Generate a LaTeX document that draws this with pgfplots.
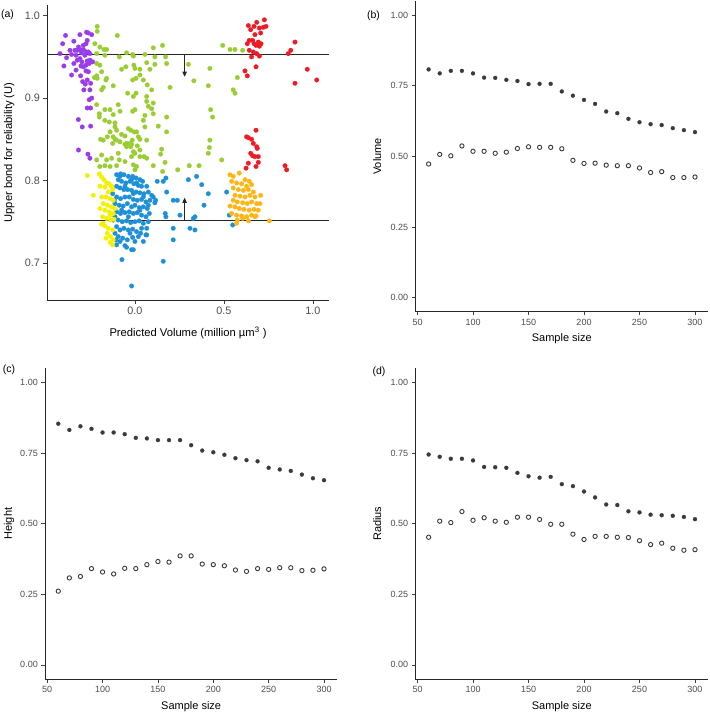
\documentclass[border=0pt]{standalone}
\usepackage{fontspec}
\setmainfont{Liberation Sans}
\usepackage{pgfplots}
\pgfplotsset{compat=1.18}
\usetikzlibrary{arrows.meta}
\definecolor{cpurple}{HTML}{9B3CEB}
\definecolor{cgreen}{HTML}{9ACD32}
\definecolor{cblue}{HTML}{1E90D8}
\definecolor{cyellow}{HTML}{F5F000}
\definecolor{corange}{HTML}{FFB515}
\definecolor{cred}{HTML}{EE1B24}
\definecolor{tickgray}{HTML}{4D4D4D}
\definecolor{dotgray}{HTML}{3A3A3A}
\pgfplotsset{
  base/.style={scale only axis, axis x line*=bottom, axis y line*=left,
    axis line style={-, line width=0.8pt, black!85},
    tick align=outside, major tick length=3.7pt,
    tick style={line width=0.6pt, black!75},
    /pgf/number format/assume math mode=true,
    ticklabel style={text=tickgray},
  },
  small/.style={base, width=293pt, height=310.6pt,
    xmin=48, xmax=312, ymin=-0.05, ymax=1.05,
    xtick={50,100,150,200,250,300}, ytick={0,0.25,0.5,0.75,1},
    yticklabel style={/pgf/number format/.cd, fixed, fixed zerofill, precision=2},
    ticklabel style={font=\fontsize{9}{10}\selectfont},
    label style={font=\fontsize{11}{13}\selectfont},
    xlabel style={at={(axis description cs:0.5,-0.086)}, anchor=center},
    ylabel style={at={(axis description cs:-0.13,0.5)}, anchor=center},
  },
  pts/.style={only marks, mark=*, mark size=2.3pt, mark options={solid, draw=#1, fill=#1, line width=0.2pt}},
  fdot/.style={only marks, mark=*, mark size=2.0pt, mark options={solid, draw=dotgray, fill=dotgray, line width=0.2pt}},
  odot/.style={only marks, mark=o, mark size=2.15pt, mark options={solid, draw=dotgray, line width=0.9pt}},
}
\pgfplotstableread{
n up lo
60 0.808 0.473
70 0.794 0.507
80 0.803 0.502
90 0.803 0.537
100 0.794 0.518
110 0.779 0.518
120 0.778 0.511
130 0.771 0.515
140 0.767 0.528
150 0.756 0.534
160 0.757 0.532
170 0.757 0.532
180 0.730 0.527
190 0.715 0.486
200 0.700 0.475
210 0.686 0.476
220 0.659 0.469
230 0.653 0.467
240 0.633 0.467
250 0.621 0.459
260 0.614 0.443
270 0.611 0.446
280 0.600 0.425
290 0.593 0.425
300 0.586 0.427
}\volume
\pgfplotstableread{
n up lo
60 0.854 0.261
70 0.832 0.308
80 0.845 0.313
90 0.836 0.341
100 0.823 0.329
110 0.823 0.322
120 0.817 0.342
130 0.804 0.341
140 0.802 0.355
150 0.796 0.366
160 0.796 0.364
170 0.796 0.386
180 0.778 0.386
190 0.759 0.357
200 0.753 0.355
210 0.744 0.351
220 0.732 0.336
230 0.725 0.331
240 0.721 0.341
250 0.698 0.338
260 0.692 0.344
270 0.687 0.344
280 0.674 0.334
290 0.661 0.335
300 0.654 0.340
}\height
\pgfplotstableread{
n up lo
60 0.745 0.452
70 0.737 0.509
80 0.730 0.504
90 0.730 0.543
100 0.724 0.512
110 0.701 0.521
120 0.700 0.509
130 0.698 0.505
140 0.680 0.523
150 0.668 0.523
160 0.663 0.515
170 0.666 0.498
180 0.640 0.498
190 0.633 0.463
200 0.614 0.444
210 0.593 0.455
220 0.568 0.455
230 0.566 0.452
240 0.544 0.451
250 0.540 0.440
260 0.532 0.426
270 0.530 0.431
280 0.528 0.413
290 0.524 0.406
300 0.516 0.408
}\radius
\begin{document}
\begin{tikzpicture}
\useasboundingbox (0,0) rectangle (709pt,714pt);
% ---------- (a) ----------
\begin{axis}[base, at={(47pt,414pt)}, anchor=south west, width=282pt, height=295pt,
  xmin=-0.494, xmax=1.09, ymin=0.655, ymax=1.013,
  xtick={0,0.5,1}, ytick={0.7,0.8,0.9,1.0},
  xticklabel style={/pgf/number format/.cd, fixed, fixed zerofill, precision=1},
  yticklabel style={/pgf/number format/.cd, fixed, fixed zerofill, precision=1},
  ticklabel style={font=\fontsize{10.8}{12}\selectfont},
  label style={font=\fontsize{11.2}{13}\selectfont},
  xlabel={Predicted Volume (million µm\textsuperscript{3} )},
  ylabel={Upper bond for reliability (U)},
  xlabel style={at={(axis description cs:0.5,-0.112)}, anchor=center},
  ylabel style={at={(axis description cs:-0.134,0.5)}, anchor=center},
]
\addplot[pts=cgreen] coordinates {
(-0.212,0.987) (-0.212,0.981) (-0.099,0.976) (-0.225,0.966) (-0.197,0.962) (-0.174,0.959) (-0.159,0.959) (-0.169,0.952) (-0.215,0.954) (-0.088,0.950)
(-0.047,0.955) (-0.013,0.953) (-0.009,0.951) (0.056,0.953) (0.103,0.961) (0.155,0.964) (0.112,0.950) (0.172,0.950) (-0.075,0.935) (-0.051,0.938)
(-0.006,0.940) (0.000,0.936) (0.028,0.935) (0.084,0.935) (0.112,0.941) (0.066,0.943) (-0.215,0.942) (-0.197,0.940) (-0.187,0.932) (-0.215,0.927)
(-0.228,0.925) (-0.212,0.924) (-0.159,0.924) (-0.163,0.922) (-0.122,0.915) (-0.178,0.913) (-0.187,0.910) (-0.013,0.922) (0.006,0.924) (0.047,0.922)
(0.069,0.916) (0.094,0.910) (0.197,0.913) (-0.041,0.906) (-0.215,0.892) (-0.169,0.886) (-0.140,0.886) (-0.013,0.884) (0.000,0.886) (0.066,0.896)
(0.075,0.890) (0.094,0.887) (0.103,0.881) (0.056,0.879) (-0.200,0.881) (-0.200,0.877) (-0.169,0.873) (-0.144,0.871) (-0.112,0.870) (-0.112,0.865)
(-0.103,0.861) (-0.140,0.859) (-0.155,0.853) (-0.122,0.853) (-0.103,0.849) (-0.193,0.850) (-0.125,0.845) (-0.075,0.856) (-0.056,0.854) (-0.024,0.861)
(-0.004,0.859) (0.019,0.853) (0.028,0.850) (-0.015,0.849) (-0.028,0.845) (-0.047,0.845) (-0.094,0.833) (-0.056,0.844) (-0.047,0.841) (-0.024,0.841)
(-0.009,0.835) (0.000,0.833) (0.013,0.842) (0.028,0.837) (0.066,0.849) (0.056,0.865) (0.047,0.873) (0.131,0.866) (0.178,0.859) (0.178,0.877)
(0.150,0.838) (0.144,0.832) (-0.187,0.831) (-0.159,0.825) (-0.131,0.827) (-0.088,0.825) (-0.056,0.823) (-0.019,0.829) (-0.009,0.819) (0.000,0.813)
(0.009,0.817) (0.051,0.829) (0.103,0.818) (0.155,0.811) (0.169,0.822) (0.240,0.813) (0.305,0.818) (0.360,0.818) (0.421,0.849) (0.418,0.840)
(0.412,0.833) (0.487,0.825) (0.300,0.941) (0.331,0.921) (0.421,0.936) (0.412,0.915) (0.425,0.886) (0.436,0.877) (0.493,0.964) (0.534,0.959)
(0.562,0.959) (0.575,0.925) (0.605,0.958) (0.552,0.910) (0.562,0.906) (-0.169,0.818) (-0.140,0.817) (-0.103,0.818) (-0.197,0.817) (-0.112,0.850)
(-0.178,0.849) (-0.215,0.825) (-0.019,0.844) (-0.037,0.863) (-0.084,0.847) (0.009,0.859) (0.028,0.829) (0.066,0.827) (0.178,0.942) (0.028,0.928)
(0.006,0.906) (-0.009,0.902) (0.066,0.902) (0.103,0.894) (-0.094,0.892) (-0.084,0.884) (-0.122,0.880)
};
\addplot[pts=cpurple] coordinates {
(-0.421,0.954) (-0.390,0.976) (-0.406,0.966) (-0.343,0.969) (-0.309,0.977) (-0.317,0.962) (-0.384,0.949) (-0.356,0.953) (-0.324,0.958) (-0.300,0.955)
(-0.272,0.980) (-0.262,0.979) (-0.243,0.977) (-0.268,0.970) (-0.275,0.966) (-0.290,0.964) (-0.309,0.959) (-0.331,0.952) (-0.337,0.958) (-0.365,0.958)
(-0.399,0.939) (-0.343,0.942) (-0.356,0.928) (-0.305,0.927) (-0.275,0.933) (-0.268,0.945) (-0.253,0.946) (-0.281,0.952) (-0.272,0.956) (-0.262,0.956)
(-0.253,0.954) (-0.309,0.948) (-0.331,0.934) (-0.303,0.939) (-0.290,0.938) (-0.262,0.932) (-0.268,0.922) (-0.279,0.917) (-0.249,0.918) (-0.253,0.910)
(-0.243,0.900) (-0.257,0.898) (-0.268,0.888) (-0.249,0.888) (-0.318,0.874) (-0.296,0.865) (-0.249,0.866) (-0.317,0.837) (-0.264,0.832) (-0.253,0.827)
(-0.287,0.910) (-0.294,0.920) (-0.324,0.946) (-0.238,0.944) (-0.257,0.942) (-0.275,0.940) (-0.298,0.944) (-0.290,0.959)
};
\addplot[pts=cblue] coordinates {
(-0.103,0.807) (-0.081,0.808) (-0.062,0.807) (-0.037,0.805) (-0.013,0.805) (0.006,0.803) (0.028,0.801) (0.043,0.799) (0.066,0.793) (-0.094,0.801)
(-0.075,0.799) (-0.051,0.797) (-0.028,0.799) (-0.006,0.796) (0.019,0.794) (0.037,0.793) (-0.103,0.793) (-0.084,0.791) (-0.062,0.789) (-0.041,0.789)
(-0.019,0.788) (0.006,0.786) (0.028,0.785) (0.051,0.784) (0.075,0.786) (0.094,0.782) (-0.103,0.780) (-0.081,0.778) (-0.056,0.780) (-0.032,0.780)
(-0.009,0.777) (0.013,0.776) (0.037,0.777) (0.062,0.774) (0.084,0.776) (0.103,0.780) (-0.112,0.772) (-0.088,0.770) (-0.066,0.769) (-0.043,0.772)
(-0.019,0.768) (0.000,0.770) (0.024,0.767) (0.047,0.768) (0.069,0.766) (0.112,0.773) (-0.103,0.762) (-0.081,0.760) (-0.056,0.761) (-0.032,0.762)
(-0.009,0.760) (0.013,0.761) (0.037,0.758) (0.062,0.756) (0.081,0.760) (-0.094,0.752) (-0.071,0.750) (-0.047,0.751) (-0.024,0.749) (0.000,0.750)
(0.024,0.751) (0.047,0.748) (0.075,0.750) (-0.103,0.744) (-0.084,0.740) (-0.062,0.742) (-0.037,0.740) (-0.013,0.741) (0.009,0.738) (0.032,0.736)
(0.062,0.734) (-0.094,0.732) (-0.069,0.730) (-0.043,0.728) (-0.013,0.731) (0.000,0.726) (-0.103,0.722) (-0.056,0.721) (-0.047,0.719) (-0.019,0.716)
(0.047,0.726) (-0.112,0.736) (-0.107,0.728) (0.116,0.776) (0.125,0.799) (0.159,0.799) (0.174,0.803) (0.178,0.786) (0.170,0.760) (0.174,0.756)
(0.215,0.742) (0.215,0.728) (0.253,0.758) (0.215,0.776) (0.238,0.776) (0.300,0.801) (0.346,0.805) (0.375,0.795) (0.412,0.784) (0.388,0.770)
(0.328,0.754) (0.337,0.756) (0.309,0.742) (0.337,0.740) (0.515,0.786) (0.530,0.758) (0.549,0.746) (-0.073,0.704) (-0.019,0.672) (0.159,0.702)
(-0.009,0.716) (0.066,0.734) (-0.084,0.805) (-0.019,0.801) (0.009,0.797) (-0.056,0.793) (0.047,0.780) (0.075,0.770) (-0.075,0.764) (0.028,0.764)
(-0.037,0.756) (0.066,0.742) (-0.028,0.736) (0.019,0.732) (-0.084,0.726) (0.037,0.742) (-0.009,0.784) (-0.122,0.752) (-0.112,0.756) (-0.125,0.784)
(-0.116,0.776)
};
\addplot[pts=cyellow] coordinates {
(-0.268,0.806) (-0.234,0.782) (-0.200,0.808) (-0.187,0.804) (-0.174,0.801) (-0.159,0.797) (-0.144,0.796) (-0.131,0.793) (-0.197,0.793) (-0.169,0.792)
(-0.150,0.786) (-0.125,0.789) (-0.187,0.780) (-0.163,0.780) (-0.140,0.778) (-0.122,0.776) (-0.178,0.772) (-0.155,0.770) (-0.131,0.768) (-0.197,0.766)
(-0.169,0.764) (-0.144,0.762) (-0.122,0.760) (-0.182,0.756) (-0.159,0.754) (-0.137,0.752) (-0.118,0.753) (-0.187,0.747) (-0.169,0.745) (-0.150,0.742)
(-0.125,0.740) (-0.155,0.736) (-0.137,0.732) (-0.122,0.728) (-0.140,0.725) (-0.127,0.722) (-0.163,0.730) (-0.178,0.748) (-0.140,0.758) (-0.112,0.766)
};
\addplot[pts=corange] coordinates {
(0.534,0.807) (0.552,0.805) (0.586,0.809) (0.618,0.801) (0.642,0.799) (0.543,0.799) (0.571,0.797) (0.599,0.796) (0.627,0.793) (0.655,0.795)
(0.552,0.791) (0.581,0.789) (0.609,0.788) (0.637,0.789) (0.665,0.786) (0.562,0.782) (0.590,0.781) (0.618,0.780) (0.646,0.782) (0.674,0.780)
(0.706,0.782) (0.552,0.776) (0.575,0.774) (0.605,0.773) (0.631,0.772) (0.655,0.774) (0.684,0.772) (0.534,0.769) (0.562,0.768) (0.586,0.766)
(0.612,0.765) (0.642,0.764) (0.669,0.765) (0.693,0.764) (0.543,0.760) (0.571,0.758) (0.599,0.757) (0.627,0.756) (0.655,0.758) (0.674,0.756)
(0.575,0.752) (0.637,0.751) (0.680,0.757) (0.755,0.751) (0.571,0.748) (0.605,0.754) (0.702,0.772)
};
\addplot[pts=cred] coordinates {
(0.637,0.988) (0.669,0.987) (0.684,0.992) (0.727,0.995) (0.699,0.985) (0.721,0.986) (0.736,0.987) (0.650,0.983) (0.706,0.979) (0.674,0.977)
(0.642,0.970) (0.661,0.970) (0.693,0.968) (0.669,0.966) (0.631,0.966) (0.680,0.964) (0.699,0.963) (0.708,0.966) (0.642,0.958) (0.665,0.956)
(0.684,0.954) (0.699,0.951) (0.655,0.950) (0.680,0.938) (0.618,0.933) (0.631,0.927) (0.861,0.954) (0.875,0.958) (0.899,0.968) (0.968,0.935)
(1.021,0.922) (0.899,0.918) (0.680,0.861) (0.627,0.853) (0.637,0.852) (0.655,0.850) (0.665,0.845) (0.684,0.841) (0.687,0.839) (0.650,0.833)
(0.661,0.830) (0.674,0.829) (0.693,0.829) (0.693,0.822) (0.637,0.821) (0.624,0.815) (0.680,0.817) (0.843,0.818) (0.852,0.813)
};
\addplot[black!85, line width=0.8pt] coordinates {(-0.494,0.953) (1.09,0.953)};
\addplot[black!85, line width=0.8pt] coordinates {(-0.494,0.752) (1.09,0.752)};
\draw[black!85, line width=0.7pt, -{Triangle[length=5pt,width=4.5pt]}] (axis cs:0.279,0.953) -- (axis cs:0.279,0.926);
\draw[black!85, line width=0.7pt, -{Triangle[length=5pt,width=4.5pt]}] (axis cs:0.279,0.752) -- (axis cs:0.279,0.779);
\end{axis}
% ---------- (b) ----------
\begin{axis}[small, at={(415.3pt,402.3pt)}, anchor=south west, ylabel={Volume}, xlabel={Sample size}]
\addplot[fdot] table[x=n, y=up] {\volume};
\addplot[odot] table[x=n, y=lo] {\volume};
\end{axis}
% ---------- (c) ----------
\begin{axis}[small, at={(45pt,35pt)}, anchor=south west, width=292.3pt, ylabel={Height}, xlabel={Sample size},
  ylabel style={at={(axis description cs:-0.123,0.5)}}, xlabel style={at={(axis description cs:0.5,-0.089)}}]
\addplot[fdot] table[x=n, y=up] {\height};
\addplot[odot] table[x=n, y=lo] {\height};
\end{axis}
% ---------- (d) ----------
\begin{axis}[small, at={(415.3pt,35pt)}, anchor=south west, ylabel={Radius}, xlabel={Sample size},
  xlabel style={at={(axis description cs:0.5,-0.089)}}]
\addplot[fdot] table[x=n, y=up] {\radius};
\addplot[odot] table[x=n, y=lo] {\radius};
\end{axis}
% panel letters
\node[font=\fontsize{10.5}{12}\selectfont] at (7.5pt,699.5pt) {(a)};
\node[font=\fontsize{10.5}{12}\selectfont] at (373.5pt,698pt) {(b)};
\node[font=\fontsize{10.5}{12}\selectfont] at (9pt,344pt) {(c)};
\node[font=\fontsize{10.5}{12}\selectfont] at (379pt,342pt) {(d)};
\end{tikzpicture}
\end{document}
